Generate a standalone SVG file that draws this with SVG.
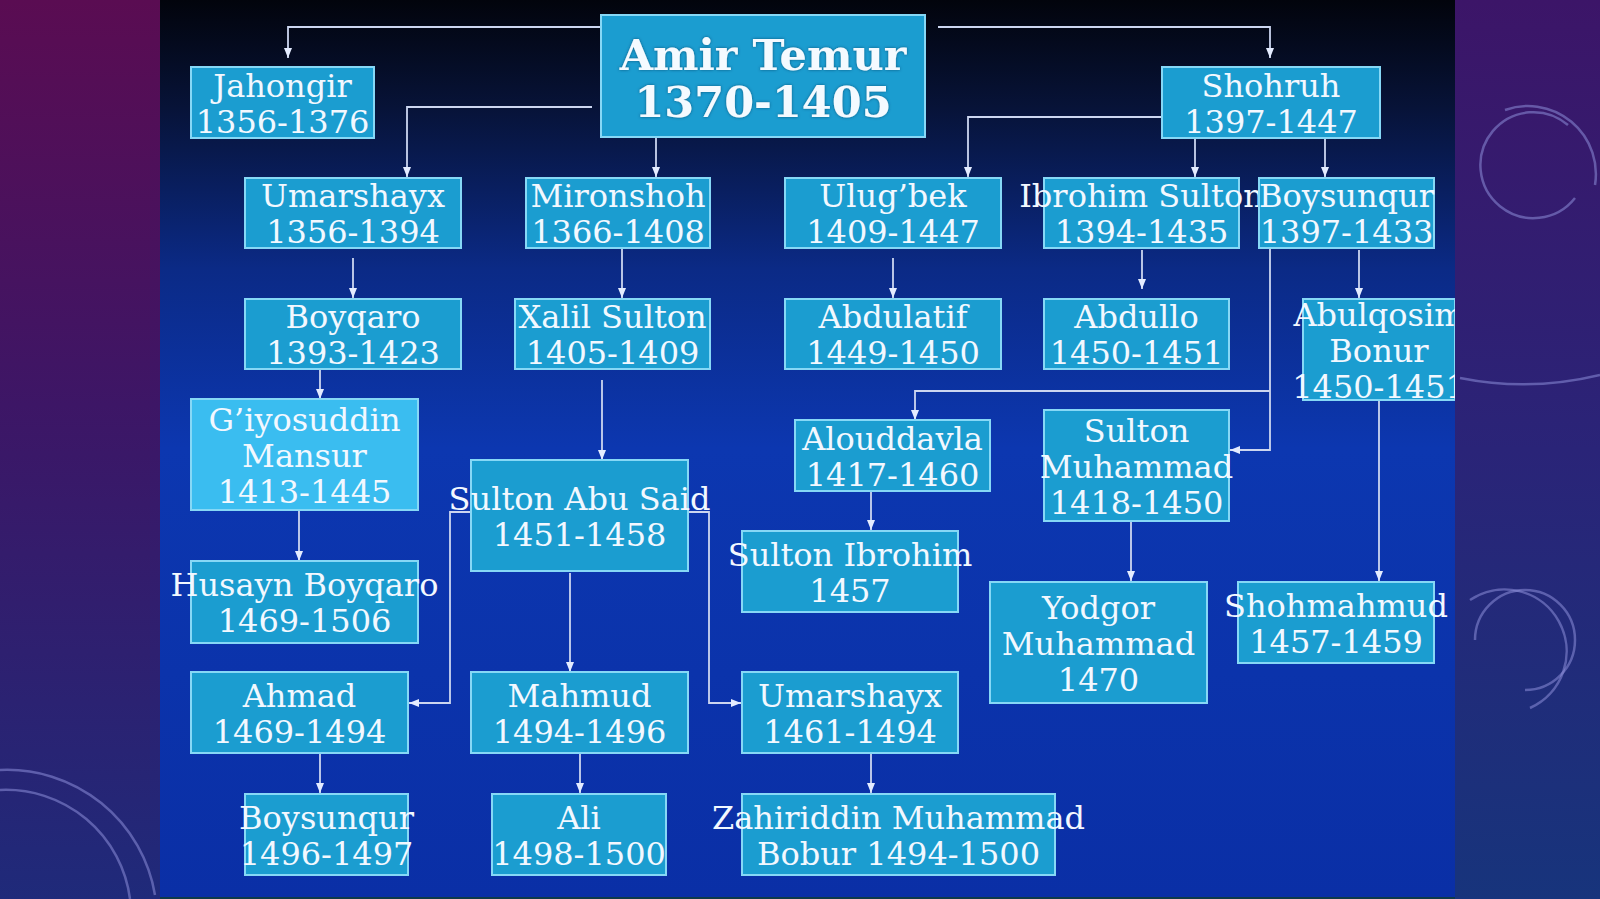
<svg xmlns="http://www.w3.org/2000/svg" width="1600" height="899" viewBox="0 0 1600 899">
<defs>
  <linearGradient id="leftBg" x1="0" y1="0" x2="0" y2="1">
    <stop offset="0" stop-color="#5a0c52"/>
    <stop offset="0.45" stop-color="#3d1666"/>
    <stop offset="1" stop-color="#1f2a7a"/>
  </linearGradient>
  <linearGradient id="rightBg" x1="0" y1="0" x2="0" y2="1">
    <stop offset="0" stop-color="#3c1568"/>
    <stop offset="0.5" stop-color="#2a2478"/>
    <stop offset="1" stop-color="#17347c"/>
  </linearGradient>
  <linearGradient id="panelBg" x1="0" y1="0" x2="0" y2="1">
    <stop offset="0" stop-color="#02040c"/>
    <stop offset="0.12" stop-color="#071338"/>
    <stop offset="0.3" stop-color="#0b2a86"/>
    <stop offset="0.5" stop-color="#0c37b0"/>
    <stop offset="1" stop-color="#0a2fa6"/>
  </linearGradient>
  <clipPath id="panelClip"><rect x="160" y="0" width="1295" height="897"/></clipPath>
  <marker id="arr" markerUnits="userSpaceOnUse" markerWidth="10" markerHeight="10" viewBox="0 0 10 10" refX="10" refY="5" orient="auto">
    <path d="M0,1 L10,5 L0,9 z" fill="#e4ecff"/>
  </marker>
  <filter id="glow" x="-10%" y="-30%" width="120%" height="160%">
    <feDropShadow dx="0" dy="0" stdDeviation="1.5" flood-color="#0a3a60" flood-opacity="0.7"/>
  </filter>
  <style>
    .box{fill:#1b9dd0;stroke:#86d8f6;stroke-width:2}
    .light{fill:#3abdf0}
    .t{font-family:"DejaVu Serif","Liberation Serif",serif;font-size:32px;fill:#f2f8ff;text-anchor:middle}
    .tb{font-family:"DejaVu Serif","Liberation Serif",serif;font-size:43px;font-weight:bold;fill:#f4faff;text-anchor:middle}
    .c{fill:none;stroke:#ccd6f0;stroke-width:1.8;marker-end:url(#arr)}
    .deco{fill:none;stroke:#8c8ed8;stroke-opacity:0.55;stroke-width:2.5}
  </style>
</defs>

<!-- outer background -->
<rect x="0" y="0" width="160" height="899" fill="url(#leftBg)"/>
<rect x="1455" y="0" width="145" height="899" fill="url(#rightBg)"/>
<rect x="160" y="897" width="1295" height="2" fill="#0e3a4a"/>
<g id="decorations">
  <path class="deco" d="M1568,125 A53,53 0 1 0 1575,198"/>
  <path class="deco" d="M1505,110 A68,68 0 0 1 1595,185" stroke-opacity="0.35"/>
  <path class="deco" d="M1460,378 Q1530,392 1600,375" stroke-opacity="0.4"/>
  <path class="deco" d="M1525,690 A50,50 0 1 0 1475,640" stroke-opacity="0.45"/>
  <path class="deco" d="M1470,600 A62,62 0 1 1 1530,708" stroke-opacity="0.35"/>
  <path class="deco" d="M0,770 A150,150 0 0 1 155,895" stroke-opacity="0.45"/>
  <path class="deco" d="M0,790 A125,125 0 0 1 130,899" stroke-opacity="0.45"/>
</g>

<!-- slide panel -->
<rect x="160" y="0" width="1295" height="897" fill="url(#panelBg)"/>

<g clip-path="url(#panelClip)">
<g id="connectors">
  <path class="c" d="M601,27 H288 V58"/>
  <path class="c" d="M938,27 H1270 V58"/>
  <path class="c" d="M592,107 H407 V177"/>
  <path class="c" d="M656,137 V177"/>
  <path class="c" d="M353,258 V298"/>
  <path class="c" d="M622,249 V298"/>
  <path class="c" d="M320,370 V399"/>
  <path class="c" d="M602,380 V460"/>
  <path class="c" d="M1162,117 H968 V177"/>
  <path class="c" d="M1195,138 V177"/>
  <path class="c" d="M1325,138 V177"/>
  <path class="c" d="M893,258 V298"/>
  <path class="c" d="M1142,250 V289"/>
  <path class="c" d="M1359,250 V298"/>
  <path class="c" d="M1270,391 H915 V420"/>
  <path class="c" d="M1270,249 V450 H1230"/>
  <path class="c" d="M871,492 V530"/>
  <path class="c" d="M1131,521 V581"/>
  <path class="c" d="M1379,401 V581"/>
  <path class="c" d="M299,511 V561"/>
  <path class="c" d="M471,512 H450 V703 H409"/>
  <path class="c" d="M689,512 H709 V703 H741"/>
  <path class="c" d="M570,573 V672"/>
  <path class="c" d="M320,754 V793"/>
  <path class="c" d="M580,754 V793"/>
  <path class="c" d="M871,754 V793"/>
</g>

<g id="amir-temur">
  <rect class="box" x="601" y="15" width="324" height="122"/>
  <text class="tb" filter="url(#glow)" x="763" y="70">Amir Temur</text>
  <text class="tb" filter="url(#glow)" x="763" y="117">1370-1405</text>
</g>
<g id="jahongir">
  <rect class="box" x="191" y="67" width="183" height="71"/>
  <text class="t" x="282.5" y="96.5">Jahongir</text>
  <text class="t" x="282.5" y="132.5">1356-1376</text>
</g>
<g id="shohruh">
  <rect class="box" x="1162" y="67" width="218" height="71"/>
  <text class="t" x="1271" y="96.5">Shohruh</text>
  <text class="t" x="1271" y="132.5">1397-1447</text>
</g>
<g id="umarshayx-1">
  <rect class="box" x="245" y="178" width="216" height="70"/>
  <text class="t" x="353" y="207">Umarshayx</text>
  <text class="t" x="353" y="243">1356-1394</text>
</g>
<g id="mironshoh">
  <rect class="box" x="526" y="178" width="184" height="70"/>
  <text class="t" x="618" y="207">Mironshoh</text>
  <text class="t" x="618" y="243">1366-1408</text>
</g>
<g id="ulugbek">
  <rect class="box" x="785" y="178" width="216" height="70"/>
  <text class="t" x="893" y="207">Ulug’bek</text>
  <text class="t" x="893" y="243">1409-1447</text>
</g>
<g id="ibrohim-sulton">
  <rect class="box" x="1044" y="178" width="195" height="70"/>
  <text class="t" x="1141.5" y="207">Ibrohim Sulton</text>
  <text class="t" x="1141.5" y="243">1394-1435</text>
</g>
<g id="boysunqur-1">
  <rect class="box" x="1259" y="178" width="175" height="70"/>
  <text class="t" x="1346.5" y="207">Boysunqur</text>
  <text class="t" x="1346.5" y="243">1397-1433</text>
</g>
<g id="boyqaro">
  <rect class="box" x="245" y="299" width="216" height="70"/>
  <text class="t" x="353" y="328">Boyqaro</text>
  <text class="t" x="353" y="364">1393-1423</text>
</g>
<g id="xalil-sulton">
  <rect class="box" x="515" y="299" width="195" height="70"/>
  <text class="t" x="612.5" y="328">Xalil Sulton</text>
  <text class="t" x="612.5" y="364">1405-1409</text>
</g>
<g id="abdulatif">
  <rect class="box" x="785" y="299" width="216" height="70"/>
  <text class="t" x="893" y="328">Abdulatif</text>
  <text class="t" x="893" y="364">1449-1450</text>
</g>
<g id="abdullo">
  <rect class="box" x="1044" y="299" width="185" height="70"/>
  <text class="t" x="1136.5" y="328">Abdullo</text>
  <text class="t" x="1136.5" y="364">1450-1451</text>
</g>
<g id="abulqosim-bonur">
  <rect class="box" x="1303" y="299" width="152" height="101"/>
  <text class="t" x="1379" y="325.5">Abulqosim</text>
  <text class="t" x="1379" y="361.5">Bonur</text>
  <text class="t" x="1379" y="397.5">1450-1451</text>
</g>
<g id="giyosuddin-mansur">
  <rect class="box light" x="191" y="399" width="227" height="111"/>
  <text class="t" x="304.5" y="430.5">G’iyosuddin</text>
  <text class="t" x="304.5" y="466.5">Mansur</text>
  <text class="t" x="304.5" y="502.5">1413-1445</text>
</g>
<g id="sulton-abu-said">
  <rect class="box" x="471" y="460" width="217" height="111"/>
  <text class="t" x="579.5" y="509.5">Sulton Abu Said</text>
  <text class="t" x="579.5" y="545.5">1451-1458</text>
</g>
<g id="alouddavla">
  <rect class="box" x="795" y="420" width="195" height="71"/>
  <text class="t" x="892.5" y="449.5">Alouddavla</text>
  <text class="t" x="892.5" y="485.5">1417-1460</text>
</g>
<g id="sulton-muhammad">
  <rect class="box" x="1044" y="410" width="185" height="111"/>
  <text class="t" x="1136.5" y="441.5">Sulton</text>
  <text class="t" x="1136.5" y="477.5">Muhammad</text>
  <text class="t" x="1136.5" y="513.5">1418-1450</text>
</g>
<g id="sulton-ibrohim">
  <rect class="box" x="742" y="531" width="216" height="81"/>
  <text class="t" x="850" y="565.5">Sulton Ibrohim</text>
  <text class="t" x="850" y="601.5">1457</text>
</g>
<g id="yodgor-muhammad">
  <rect class="box" x="990" y="582" width="217" height="121"/>
  <text class="t" x="1098.5" y="618.5">Yodgor</text>
  <text class="t" x="1098.5" y="654.5">Muhammad</text>
  <text class="t" x="1098.5" y="690.5">1470</text>
</g>
<g id="shohmahmud">
  <rect class="box" x="1238" y="582" width="196" height="81"/>
  <text class="t" x="1336" y="616.5">Shohmahmud</text>
  <text class="t" x="1336" y="652.5">1457-1459</text>
</g>
<g id="husayn-boyqaro">
  <rect class="box" x="191" y="561" width="227" height="82"/>
  <text class="t" x="304.5" y="596">Husayn Boyqaro</text>
  <text class="t" x="304.5" y="632">1469-1506</text>
</g>
<g id="ahmad">
  <rect class="box" x="191" y="672" width="217" height="81"/>
  <text class="t" x="299.5" y="706.5">Ahmad</text>
  <text class="t" x="299.5" y="742.5">1469-1494</text>
</g>
<g id="mahmud">
  <rect class="box" x="471" y="672" width="217" height="81"/>
  <text class="t" x="579.5" y="706.5">Mahmud</text>
  <text class="t" x="579.5" y="742.5">1494-1496</text>
</g>
<g id="umarshayx-2">
  <rect class="box" x="742" y="672" width="216" height="81"/>
  <text class="t" x="850" y="706.5">Umarshayx</text>
  <text class="t" x="850" y="742.5">1461-1494</text>
</g>
<g id="boysunqur-2">
  <rect class="box" x="245" y="794" width="163" height="81"/>
  <text class="t" x="326.5" y="828.5">Boysunqur</text>
  <text class="t" x="326.5" y="864.5">1496-1497</text>
</g>
<g id="ali">
  <rect class="box" x="492" y="794" width="174" height="81"/>
  <text class="t" x="579" y="828.5">Ali</text>
  <text class="t" x="579" y="864.5">1498-1500</text>
</g>
<g id="zahiriddin-bobur">
  <rect class="box" x="742" y="794" width="313" height="81"/>
  <text class="t" x="898.5" y="828.5">Zahiriddin Muhammad</text>
  <text class="t" x="898.5" y="864.5">Bobur 1494-1500</text>
</g>
</g>
</svg>
